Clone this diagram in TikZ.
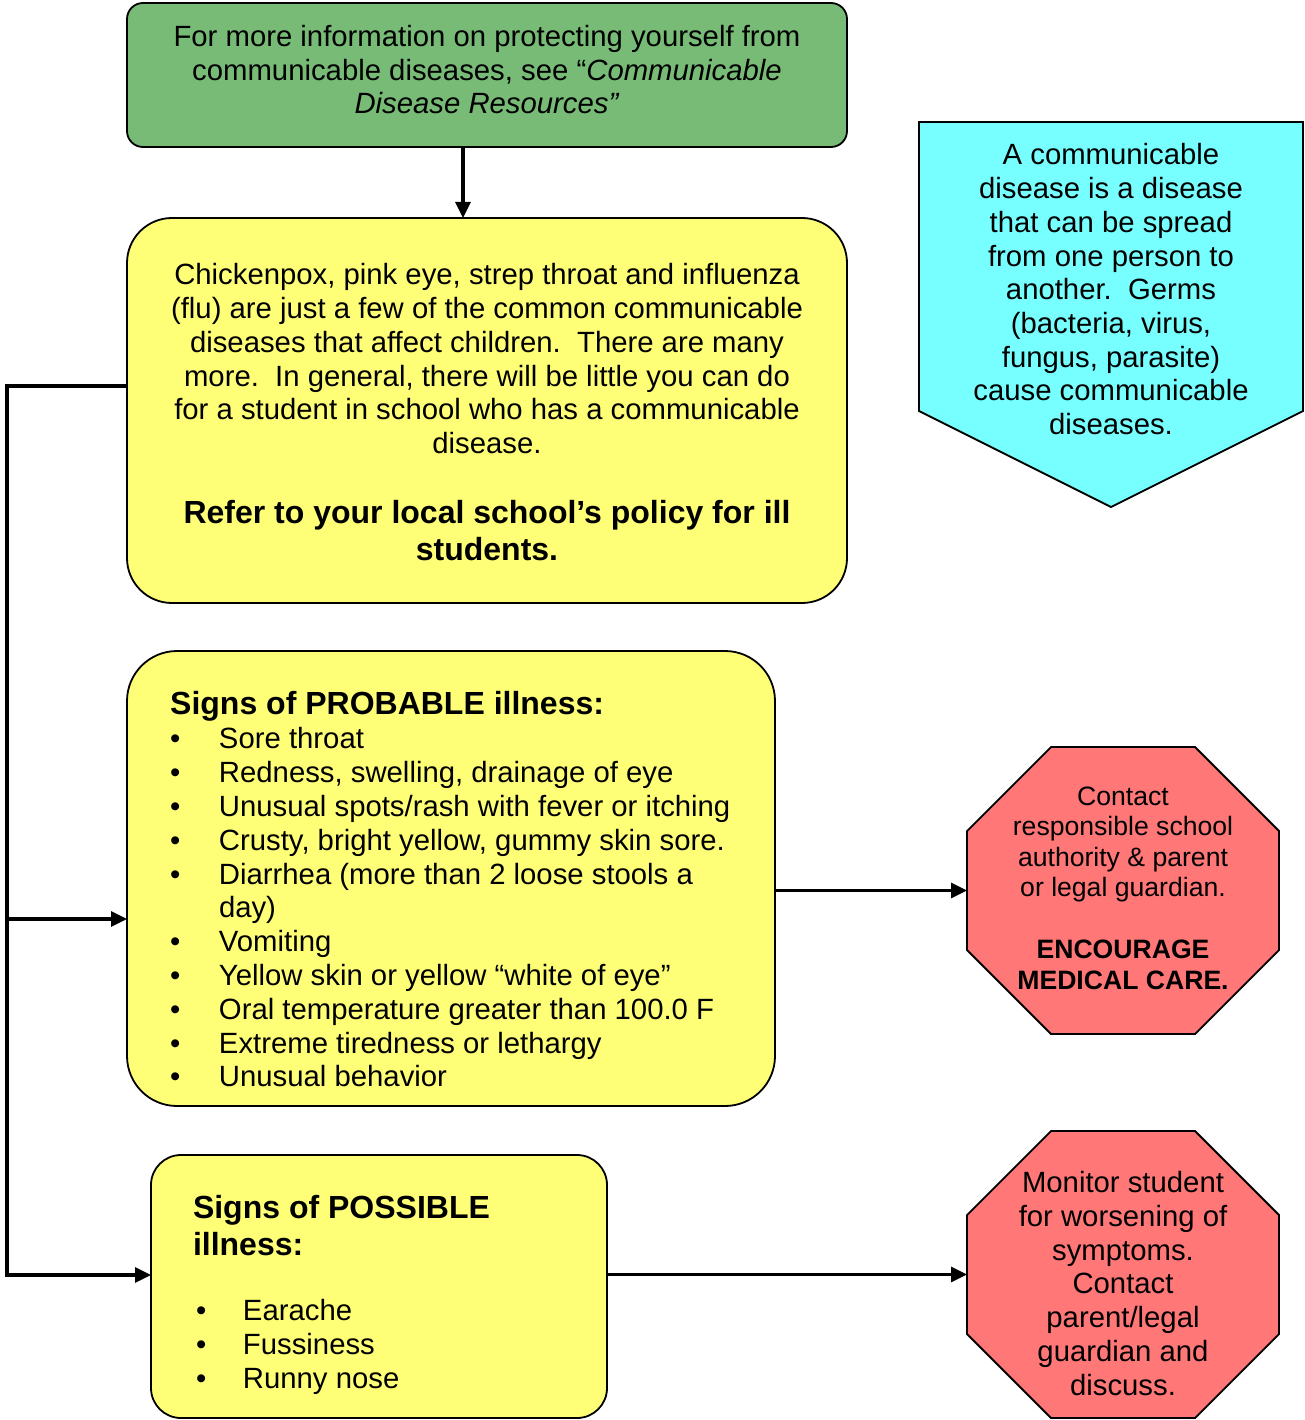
\documentclass[tikz,border=0pt]{standalone}
\usepackage{fontspec}
\setmainfont{Liberation Sans}
\usetikzlibrary{arrows.meta,calc}
\definecolor{gfill}{RGB}{119,187,119}
\definecolor{yfill}{RGB}{255,255,119}
\definecolor{rfill}{RGB}{255,119,119}
\definecolor{cfill}{RGB}{119,255,255}
\newcommand\fsz[2]{\fontsize{#1pt}{#2pt}\selectfont}
\newcommand\bulA{\makebox[49pt][l]{•}}
\newcommand\bulB{\makebox[47pt][l]{•}}
\tikzset{
  box/.style={draw=black, line width=1.8pt, inner sep=0pt, outer sep=0pt},
  hidden/.style={inner sep=0pt, outer sep=0pt},
  conn/.style={line width=3.2pt, line join=miter},
  arr/.style={conn, -{Triangle[length=16pt,width=15pt]}},
  txt/.style={inner sep=0pt, outer sep=0pt, anchor=north},
  reg/.style={font=\fsz{29.3}{33.7}},
}
\begin{document}
\begin{tikzpicture}[x=1pt,y=-1pt]
\useasboundingbox[fill=white] (0,0) rectangle (1304,1420);

% boxes
\node[box, fill=gfill, rounded corners=16pt, minimum width=720pt, minimum height=144pt] (green) at (487,75) {};
\node[box, fill=yfill, rounded corners=45pt, minimum width=720pt, minimum height=385pt] (y1) at (487,410.5) {};
\node[box, fill=yfill, rounded corners=50pt, minimum width=648pt, minimum height=455pt] (prob) at (451,878.5) {};
\node[box, fill=yfill, rounded corners=30pt, minimum width=456pt, minimum height=263pt] (poss) at (379,1286.5) {};
\node[hidden, minimum width=312pt, minimum height=287pt] (oct1) at (1123,890.5) {};
\node[hidden, minimum width=312pt, minimum height=287pt] (oct2) at (1123,1274.5) {};
\node[hidden, minimum width=384pt, minimum height=385pt] (cyan) at (1111,314.5) {};

% octagons
\foreach \o in {oct1,oct2}{
  \filldraw[fill=rfill, draw=black, line width=1.8pt, line join=miter]
    ($(\o.north west)+(84,0)$) -- ($(\o.north east)+(-84,0)$) --
    ($(\o.north east)+(0,84)$) -- ($(\o.south east)+(0,-84)$) --
    ($(\o.south east)+(-84,0)$) -- ($(\o.south west)+(84,0)$) --
    ($(\o.south west)+(0,-84)$) -- ($(\o.north west)+(0,84)$) -- cycle;
}
% pentagon
\filldraw[fill=cfill, draw=black, line width=1.8pt, line join=miter]
  (cyan.north west) -- (cyan.north east) -- ($(cyan.south east)+(0,-96)$) --
  (cyan.south) -- ($(cyan.south west)+(0,-96)$) -- cycle;

% texts
\node[txt, font=\fsz{29.3}{33.5}, align=center] (greenT) at (487,23.5)
  {\strut For more information on protecting yourself from\\
   communicable diseases, see “\textit{Communicable}\\
   \textit{Disease Resources”}};
\node[txt, reg, align=center] (y1T) at (487,261.4)
  {\strut Chickenpox, pink eye, strep throat and influenza\\
   (flu) are just a few of the common communicable\\
   diseases that affect children.\ \ There are many\\
   more.\ \ In general, there will be little you can do\\
   for a student in school who has a communicable\\
   disease.};
\node[txt, font={\fsz{32}{37}\bfseries}, align=center] (y1B) at (487,497.1)
  {\strut Refer to your local school’s policy for ill\\ students.};

\node[anchor=base west, inner sep=0pt, font={\fsz{32}{37}\bfseries}] (probH) at (170,714)
  {Signs of PROBABLE illness:};
\node[txt, anchor=north west, font=\fsz{29.3}{33.8}, align=left] (probL) at (170,725.3)
  {\strut\bulA Sore throat\\
   \bulA Redness, swelling, drainage of eye\\
   \bulA Unusual spots/rash with fever or itching\\
   \bulA Crusty, bright yellow, gummy skin sore.\\
   \bulA Diarrhea (more than 2 loose stools a\\
   \makebox[49pt]{}day)\\
   \bulA Vomiting\\
   \bulA Yellow skin or yellow “white of eye”\\
   \bulA Oral temperature greater than 100.0 F\\
   \bulA Extreme tiredness or lethargy\\
   \bulA Unusual behavior};

\node[txt, anchor=north west, font={\fsz{32}{37}\bfseries}, align=left] (possH) at (193,1192.1)
  {\strut Signs of POSSIBLE\\ illness:};
\node[txt, anchor=north west, font=\fsz{29.3}{33.7}, align=left] (possL) at (196,1297.3)
  {\strut\bulB Earache\\ \bulB Fussiness\\ \bulB Runny nose};

\node[txt, reg, align=center] (cyanT) at (1111,141.4)
  {\strut A communicable\\ disease is a disease\\ that can be spread\\
   from one person to\\ another.\ \ Germs\\ (bacteria, virus,\\
   fungus, parasite)\\ cause communicable\\ diseases.};

\node[txt, font=\fsz{26.6}{30.6}, align=center] (oct1T) at (1123,783.6)
  {\strut Contact\\ responsible school\\ authority \& parent\\ or legal guardian.};
\node[txt, font={\fsz{26.6}{31}\bfseries}, align=center] (oct1B) at (1123,936.3)
  {\strut ENCOURAGE\\ MEDICAL CARE.};

\node[txt, font=\fsz{29.3}{33.8}, align=center] (oct2T) at (1123,1168.8)
  {\strut Monitor student\\ for worsening of\\ symptoms.\\ Contact\\
   parent/legal\\ guardian and\\ discuss.};

% connectors
\coordinate (tTop) at (7,386);
\coordinate (tMid) at (7,919);
\coordinate (tBot) at (7,1275);
\draw[arr] ($(green.south)+(-24,0)$) -- ($(y1.north)+(-24,0)$);
\draw[arr] (y1.west |- tTop) -- (tTop) -- (tBot) -- (tBot -| poss.west);
\draw[arr] (tMid) -- (tMid -| prob.west);
\draw[arr] (oct1.west -| prob.east) -- (oct1.west);
\draw[arr] (oct2.west -| poss.east) -- (oct2.west);
\end{tikzpicture}
\end{document}
